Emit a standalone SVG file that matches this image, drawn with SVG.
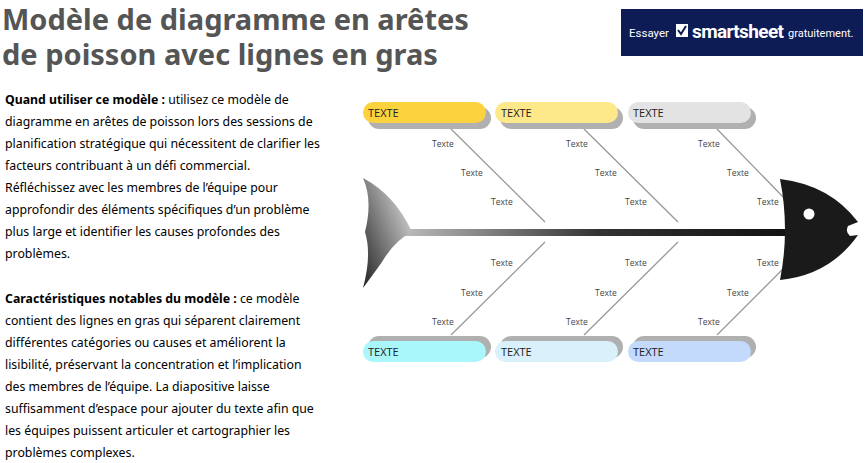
<svg xmlns="http://www.w3.org/2000/svg" width="868" height="463" viewBox="0 0 868 463">
<defs>
<style>
.t{font-family:"Noto Sans","Open Sans",sans-serif;fill:#000}
.body{font-size:12.3px}
.ti{font-family:"Noto Sans","Open Sans",sans-serif;font-size:29px;font-weight:bold;fill:#555}
.lb{font-family:"Open Sans","Noto Sans",sans-serif;font-size:8.5px;fill:#444}
.bx{font-family:"Open Sans","Noto Sans",sans-serif;font-size:11px;fill:#222}
.bone{stroke:#999;stroke-width:1.3;fill:none}
.sh{fill:#b0b0b0}
</style>
<linearGradient id="sp" x1="0" x2="1"><stop offset="0" stop-color="#bbb"/><stop offset="0.5" stop-color="#333"/><stop offset="1" stop-color="#111"/></linearGradient>
<linearGradient id="tl" x1="0" y1="1" x2="0.8" y2="0.3"><stop offset="0" stop-color="#222"/><stop offset="1" stop-color="#bbb"/></linearGradient>
</defs>
<rect width="868" height="463" fill="#fff"/>
<text class="ti" x="2" y="30">Modèle de diagramme en arêtes</text>
<text class="ti" x="2" y="65">de poisson avec lignes en gras</text>
<g id="cta"><rect x="621" y="9" width="242" height="47" fill="#0d1c55"/>
<text x="629" y="37" font-family="Roboto,sans-serif" font-size="11.5" fill="#fff">Essayer</text>
<rect x="676" y="24" width="12" height="13" fill="#fff"/><path d="M678 30l3 4 5-8" stroke="#0d1c55" stroke-width="2" fill="none"/>
<text x="692" y="38" font-family="Roboto,sans-serif" font-size="19" font-weight="bold" fill="#fff" textLength="92">smartsheet</text>
<text x="788" y="37" font-family="Roboto,sans-serif" font-size="11" fill="#fff">gratuitement.</text></g>
<text class="t body"><tspan x="5" y="104"><tspan font-weight="bold">Quand utiliser ce modèle :</tspan> utilisez ce modèle de</tspan><tspan x="5" y="126">diagramme en arêtes de poisson lors des sessions de</tspan><tspan x="5" y="148">planification stratégique qui nécessitent de clarifier les</tspan><tspan x="5" y="170">facteurs contribuant à un défi commercial.</tspan><tspan x="5" y="192">Réfléchissez avec les membres de l’équipe pour</tspan><tspan x="5" y="214">approfondir des éléments spécifiques d’un problème</tspan><tspan x="5" y="236">plus large et identifier les causes profondes des</tspan><tspan x="5" y="258">problèmes.</tspan>
<tspan x="5" y="303"><tspan font-weight="bold">Caractéristiques notables du modèle :</tspan> ce modèle</tspan><tspan x="5" y="325">contient des lignes en gras qui séparent clairement</tspan><tspan x="5" y="347">différentes catégories ou causes et améliorent la</tspan><tspan x="5" y="369">lisibilité, préservant la concentration et l’implication</tspan><tspan x="5" y="391">des membres de l’équipe. La diapositive laisse</tspan><tspan x="5" y="413">suffisamment d’espace pour ajouter du texte afin que</tspan><tspan x="5" y="435">les équipes puissent articuler et cartographier les</tspan><tspan x="5" y="457">problèmes complexes.</tspan></text>
<g id="connectors">
<path class="bone" d="M451 129L545 222M584 129L678 222M717 129L786 200M545 242L451 335M678 242L584 335M786 266L717 335"/>
</g>
<g id="fish">
<rect x="405" y="229" width="385" height="7" fill="url(#sp)"/>
<path d="M363 178Q395 195 412 232Q395 240 382 262Q372 276 363 288Q372 255 365 232Q373 200 363 178Z" fill="url(#tl)"/>
<path d="M780 179Q830 185 858 222L848 226Q845 232 850 236L858 235Q830 275 780 280Q790 230 780 179Z" fill="#1a1a1a"/>
<circle cx="809" cy="214" r="5.5" fill="#fff"/>
</g>
<g id="labels">
<text class="lb" x="432" y="147">Texte</text><text class="lb" x="461" y="176">Texte</text><text class="lb" x="491" y="205">Texte</text>
<text class="lb" x="566" y="147">Texte</text><text class="lb" x="595" y="176">Texte</text><text class="lb" x="625" y="205">Texte</text>
<text class="lb" x="698" y="147">Texte</text><text class="lb" x="727" y="176">Texte</text><text class="lb" x="757" y="205">Texte</text>
<text class="lb" x="491" y="266">Texte</text><text class="lb" x="461" y="296">Texte</text><text class="lb" x="432" y="325">Texte</text>
<text class="lb" x="625" y="266">Texte</text><text class="lb" x="595" y="296">Texte</text><text class="lb" x="566" y="325">Texte</text>
<text class="lb" x="757" y="266">Texte</text><text class="lb" x="727" y="296">Texte</text><text class="lb" x="698" y="325">Texte</text>
</g>
<g id="n1"><rect class="sh" x="368" y="107" width="123" height="22" rx="11"/><rect x="363" y="102" width="123" height="21" rx="10.5" fill="#fdd23f"/><text class="bx" x="368" y="117">TEXTE</text></g>
<g id="n2"><rect class="sh" x="500" y="107" width="123" height="22" rx="11"/><rect x="495" y="102" width="123" height="21" rx="10.5" fill="#fde88a"/><text class="bx" x="501" y="117">TEXTE</text></g>
<g id="n3"><rect class="sh" x="633" y="107" width="123" height="22" rx="11"/><rect x="628" y="102" width="123" height="21" rx="10.5" fill="#e3e3e3"/><text class="bx" x="633" y="117">TEXTE</text></g>
<g id="n4"><rect class="sh" x="368" y="336" width="123" height="22" rx="11"/><rect x="363" y="341" width="123" height="21" rx="10.5" fill="#a9f6fb"/><text class="bx" x="368" y="356">TEXTE</text></g>
<g id="n5"><rect class="sh" x="500" y="336" width="123" height="22" rx="11"/><rect x="495" y="341" width="123" height="21" rx="10.5" fill="#d9f1fa"/><text class="bx" x="501" y="356">TEXTE</text></g>
<g id="n6"><rect class="sh" x="633" y="336" width="123" height="22" rx="11"/><rect x="628" y="341" width="123" height="21" rx="10.5" fill="#c3dafd"/><text class="bx" x="633" y="356">TEXTE</text></g>
</svg>
